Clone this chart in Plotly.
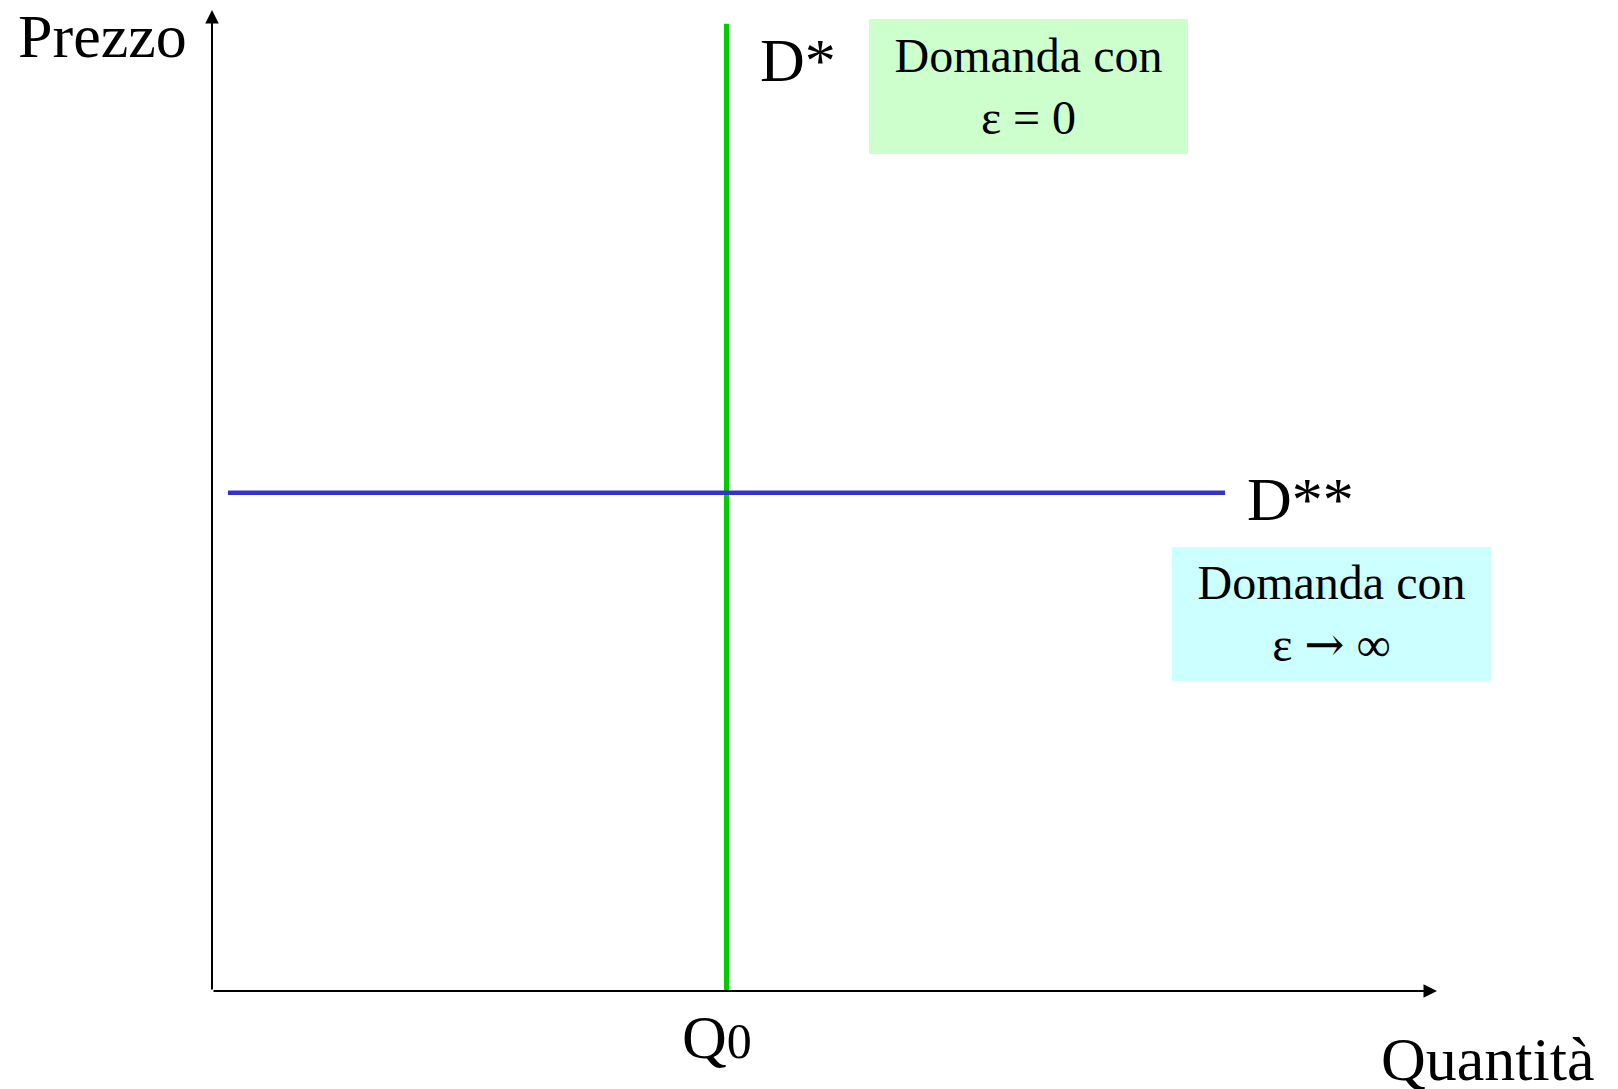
import plotly.graph_objects as go

# ---- data (conceptual units: axes run 0..10) ----
axis_max_q = 10.0
axis_max_p = 10.0
q0 = 4.2                       # quantity of the perfectly inelastic demand D*
d_star_q = [q0, q0]
d_star_p = [0.0, 9.86]
p_level = 5.08                 # price of the perfectly elastic demand D**
d2_q = [0.13, 8.27]
d2_p = [p_level, p_level]

labels_big = ["Prezzo", "D*", "D**", "Quantità"]
box_texts = [
    "Domanda con<br>ε = 0",
    "Domanda con<br>ε <span style=\"font-family:'DejaVu Serif'\">→</span> ∞",
]

# ---- styling ----
# the html page adds an 8px body margin, so the figure is 8px smaller
W, H = 1610, 1081
FONT = "Liberation Serif"
BIG = 62
BOX = 48
x_range = [-1.6653, 11.4776]
y_range = [-0.999, 10.0204]

fig = go.Figure()

fig.add_trace(go.Scatter(x=d_star_q, y=d_star_p, mode="lines",
                         line=dict(color="#00cc00", width=5), hoverinfo="skip"))
fig.add_trace(go.Scatter(x=d2_q, y=d2_p, mode="lines",
                         line=dict(color="#3333cc", width=4.5), hoverinfo="skip"))

annotations = []
# axes with arrowheads
annotations.append(dict(x=0, y=axis_max_p, ax=0, ay=0, xref="x", yref="y",
                        axref="x", ayref="y", text="", showarrow=True,
                        arrowhead=2, arrowsize=1.35, arrowwidth=2, arrowcolor="black"))
annotations.append(dict(x=axis_max_q, y=0, ax=0, ay=0, xref="x", yref="y",
                        axref="x", ayref="y", text="", showarrow=True,
                        arrowhead=2, arrowsize=1.35, arrowwidth=2, arrowcolor="black"))

big_font = dict(family=FONT, size=BIG, color="black")
annotations += [
    dict(x=-0.188, y=9.73, text=labels_big[0], xanchor="right", yanchor="middle",
         showarrow=False, font=big_font),
    dict(x=4.457, y=9.49, text=labels_big[1], xanchor="left", yanchor="middle",
         showarrow=False, font=big_font),
    dict(x=8.433, y=5.02, text=labels_big[2], xanchor="left", yanchor="middle",
         showarrow=False, font=big_font),
    dict(x=11.31, y=-0.69, text=labels_big[3], xanchor="right", yanchor="middle",
         showarrow=False, font=big_font),
    dict(x=4.122, y=-0.469, text="Q<span style='font-size:50px'>0</span>",
         xanchor="center", yanchor="middle", showarrow=False, font=big_font),
]

box_font = dict(family=FONT, size=BOX, color="black")
annotations += [
    dict(x=6.665, y=9.225, text=box_texts[0], xanchor="center", yanchor="middle",
         showarrow=False, font=box_font, bgcolor="#ccffcc", width=319, height=135,
         borderpad=0, borderwidth=0, align="center", valign="middle"),
    dict(x=9.139, y=3.843, text=box_texts[1], xanchor="center", yanchor="middle",
         showarrow=False, font=box_font, bgcolor="#ccffff", width=319, height=134,
         borderpad=0, borderwidth=0, align="center", valign="middle"),
]

fig.update_layout(
    width=W, height=H, autosize=False,
    margin=dict(l=0, r=0, t=0, b=0, pad=0),
    paper_bgcolor="white", plot_bgcolor="white",
    showlegend=False,
    xaxis=dict(range=x_range, visible=False, fixedrange=True),
    yaxis=dict(range=y_range, visible=False, fixedrange=True),
    annotations=annotations,
)

fig.write_html("out.html", config={"displayModeBar": False})
